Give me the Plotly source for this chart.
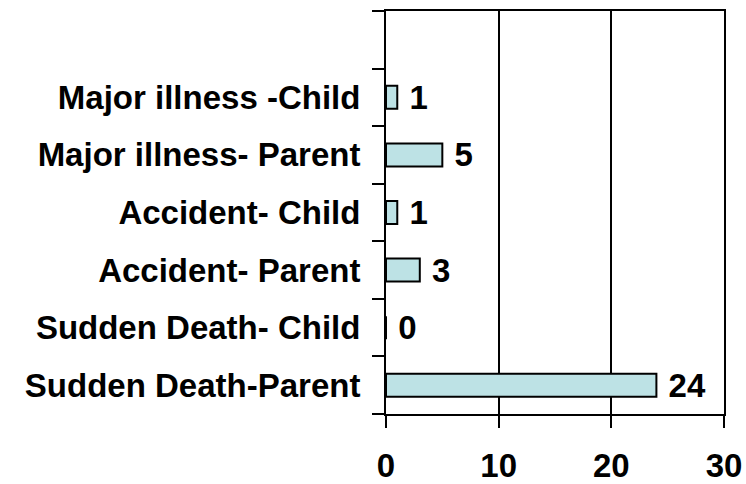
import plotly.graph_objects as go

categories = ["Sudden Death-Parent", "Sudden Death- Child", "Accident- Parent",
              "Accident- Child", "Major illness- Parent", "Major illness -Child"]
values = [24, 0, 3, 1, 5, 1]
x_ticks = [0, 10, 20, 30]

all_cats = categories + [" "]

FONT = "Liberation Sans, Arial, sans-serif"
FS = 33

fig = go.Figure()
fig.add_trace(go.Bar(
    y=categories,
    x=values,
    orientation="h",
    width=0.4,
    marker=dict(color="#BDE2E5", line=dict(color="black", width=2)),
    text=values,
    texttemplate="\u00a0%{x}",
    textposition="outside",
    constraintext="none",
    cliponaxis=False,
    textfont=dict(family=FONT, size=FS, color="black", weight="bold"),
))

fig.update_layout(
    width=746, height=484,
    margin=dict(l=386, r=22, t=11, b=70, autoexpand=False),
    plot_bgcolor="white",
    paper_bgcolor="white",
    showlegend=False,
    uniformtext=dict(mode=False),
    xaxis=dict(
        range=[0, 30],
        tickvals=x_ticks,
        showgrid=True, gridcolor="black", gridwidth=2,
        showline=True, linecolor="black", linewidth=2, mirror=True,
        ticks="outside", ticklen=12, tickwidth=2, tickcolor="black",
        ticklabelstandoff=9,
        tickfont=dict(family=FONT, size=FS, color="black", weight="bold"),
        zeroline=False,
        automargin=False,
        fixedrange=True,
    ),
    yaxis=dict(
        type="category",
        categoryorder="array",
        categoryarray=all_cats,
        range=[-0.5, 6.5],
        tickson="boundaries",
        showgrid=False,
        showline=True, linecolor="black", linewidth=2, mirror=True,
        ticks="outside", ticklen=12, tickwidth=2, tickcolor="black",
        ticklabelstandoff=17,
        tickfont=dict(family=FONT, size=FS, color="black", weight="bold"),
        automargin=False,
        fixedrange=True,
    ),
)

fig.write_html("out.html")
